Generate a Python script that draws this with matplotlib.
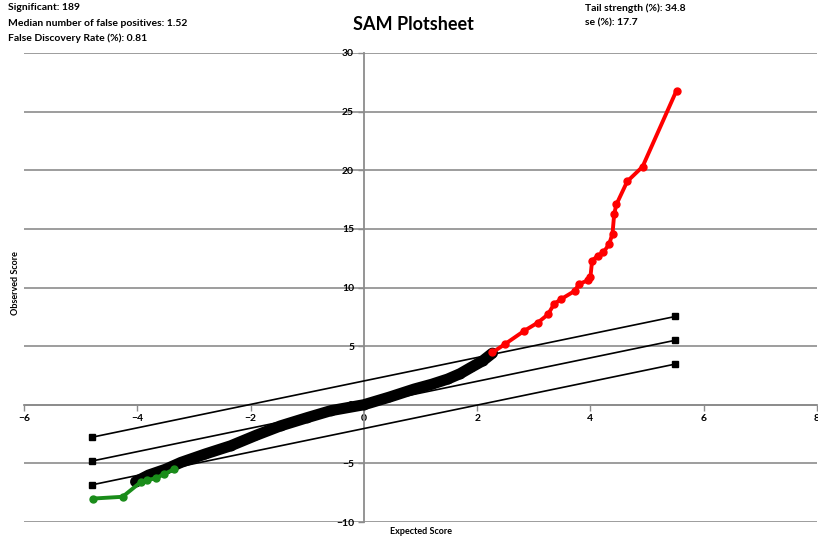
import matplotlib
matplotlib.use("Agg")
import matplotlib.pyplot as plt
import numpy as np

plt.rcParams['font.family'] = ['Lato', 'DejaVu Sans']

# --- data ---
black_x = [-4.03, -3.8, -3.5, -3.23, -2.8, -2.35, -1.9, -1.47, -1.0, -0.58, 0.0,
           0.45, 0.89, 1.2, 1.48, 1.7, 1.89, 2.1, 2.27]
black_y = [-6.57, -6.0, -5.5, -4.92, -4.2, -3.5, -2.6, -1.8, -1.1, -0.5, 0.0,
           0.65, 1.34, 1.75, 2.19, 2.65, 3.18, 3.75, 4.4]

red_x = [2.27, 2.5, 2.83, 3.07, 3.25, 3.36, 3.48, 3.72, 3.80, 3.95, 4.0, 4.03,
         4.13, 4.23, 4.33, 4.39, 4.42, 4.46, 4.65, 4.92, 5.52]
red_y = [4.46, 5.2, 6.3, 7.0, 7.7, 8.6, 9.0, 9.7, 10.3, 10.6, 10.9, 12.3,
         12.7, 13.0, 13.7, 14.6, 16.3, 17.1, 19.05, 20.3, 26.8]

green_x = [-4.78, -4.26, -3.94, -3.82, -3.67, -3.53, -3.35]
green_y = [-8.0, -7.85, -6.6, -6.43, -6.26, -5.92, -5.5]

band_x = [-4.8, 5.5]
band_upper = [-2.77, 7.53]
band_mid = [-4.8, 5.5]
band_lower = [-6.83, 3.47]

x_ticks = [-6, -4, -2, 0, 2, 4, 6, 8]
y_ticks = [-10, -5, 0, 5, 10, 15, 20, 25, 30]

stats_left = ["Significant: 189",
              "Median number of false positives: 1.52",
              "False Discovery Rate (%): 0.81"]
stats_right = ["Tail strength (%): 34.8",
               "se (%): 17.7"]

fig = plt.figure(figsize=(8.18, 5.36), dpi=100)
ax = fig.add_axes([24/818, 1-522/536, (817-24)/818, (522-53)/536])

ax.set_xlim(-6, 8)
ax.set_ylim(-10, 30)
ax.set_xticks(x_ticks)
ax.set_yticks(y_ticks)
ax.yaxis.grid(True, color='#8c8c8c', lw=1.2)
ax.set_axisbelow(True)

for s in ['top', 'right']:
    ax.spines[s].set_visible(False)
ax.spines['left'].set_position(('data', 0))
ax.spines['bottom'].set_position(('data', 0))
for s in ['left', 'bottom']:
    ax.spines[s].set_color('#8c8c8c')
    ax.spines[s].set_linewidth(1.3)
ax.tick_params(axis='both', colors='#8c8c8c', length=4, width=1, labelcolor='black',
               labelsize=7.5, pad=3)
for lab in ax.get_xticklabels() + ax.get_yticklabels():
    lab.set_fontweight('bold')

# band lines
for by in [band_upper, band_mid, band_lower]:
    ax.plot(band_x, by, color='black', lw=1.2, marker='s', markersize=4, zorder=3)

ax.plot(black_x, black_y, color='black', lw=8, marker='o', markersize=6,
        solid_capstyle='round', solid_joinstyle='round', zorder=4)
ax.plot(red_x, red_y, color='#ff0000', lw=2.8, marker='o', markersize=5,
        solid_joinstyle='round', zorder=5)
ax.plot(green_x, green_y, color='#1a8c1a', lw=2.8, marker='o', markersize=5,
        solid_joinstyle='round', zorder=5)

fig.text(413/818, 1-25/536, "SAM Plotsheet", ha='center', va='center',
         fontsize=13, fontweight='bold')
for i, t in enumerate(stats_left):
    fig.text(8/818, 1-(8+15*i)/536, t, ha='left', va='center', fontsize=7.5,
             fontweight='bold')
for i, t in enumerate(stats_right):
    fig.text(585/818, 1-(8+15*i)/536, t, ha='left', va='center', fontsize=7.5,
             fontweight='bold')

fig.text(15/818, 1-283/536, "Observed Score", rotation=90, ha='center', va='center',
         fontsize=6.5, fontweight='bold')
fig.text(421/818, 1-531/536, "Expected Score", ha='center', va='center',
         fontsize=6.5, fontweight='bold')

fig.savefig("out.png", dpi=100)
